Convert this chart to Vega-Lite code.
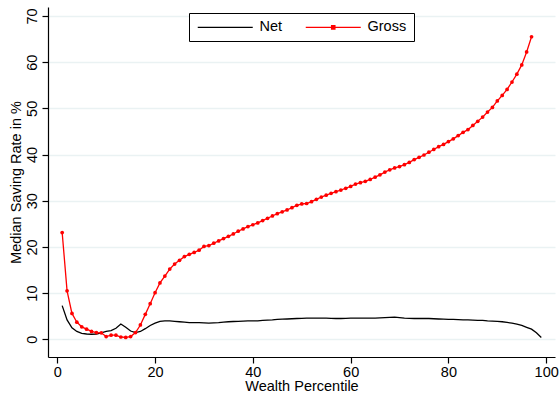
{
  "$schema": "https://vega.github.io/schema/vega-lite/v6.json",
  "autosize": "none",
  "width": 507,
  "height": 350,
  "padding": {"left": 48, "top": 7, "right": 5, "bottom": 37},
  "background": "white",
  "config": {
    "view": {"stroke": null},
    "font": "Liberation Sans",
    "axis": {"labelFont": "Liberation Sans", "titleFont": "Liberation Sans", "labelFontSize": 14.5, "titleFontSize": 14.5, "labelColor": "black", "titleColor": "black", "titleFontWeight": "normal", "domainColor": "black", "tickColor": "black", "domainWidth": 1.2, "tickWidth": 1.2, "tickSize": 6, "gridColor": "#eaf2f3", "gridWidth": 1.5}
  },
  "data": {"values": [
    {"p":1,"s":"Net","v":7.3},{"p":2,"s":"Net","v":4.2},{"p":3,"s":"Net","v":2.5},{"p":4,"s":"Net","v":1.7},{"p":5,"s":"Net","v":1.3},{"p":6,"s":"Net","v":1.15},{"p":7,"s":"Net","v":1.1},{"p":8,"s":"Net","v":1.15},{"p":9,"s":"Net","v":1.4},{"p":10,"s":"Net","v":1.7},
    {"p":11,"s":"Net","v":1.9},{"p":12,"s":"Net","v":2.4},{"p":13,"s":"Net","v":3.3},{"p":14,"s":"Net","v":2.6},{"p":15,"s":"Net","v":1.8},{"p":16,"s":"Net","v":1.45},{"p":17,"s":"Net","v":1.7},{"p":18,"s":"Net","v":2.3},{"p":19,"s":"Net","v":3.0},{"p":20,"s":"Net","v":3.5},
    {"p":21,"s":"Net","v":3.9},{"p":22,"s":"Net","v":4.0},{"p":23,"s":"Net","v":4.0},{"p":24,"s":"Net","v":3.9},{"p":25,"s":"Net","v":3.8},{"p":26,"s":"Net","v":3.7},{"p":27,"s":"Net","v":3.6},{"p":28,"s":"Net","v":3.6},{"p":29,"s":"Net","v":3.6},{"p":30,"s":"Net","v":3.55},
    {"p":31,"s":"Net","v":3.5},{"p":32,"s":"Net","v":3.55},{"p":33,"s":"Net","v":3.6},{"p":34,"s":"Net","v":3.7},{"p":35,"s":"Net","v":3.8},{"p":36,"s":"Net","v":3.85},{"p":37,"s":"Net","v":3.9},{"p":38,"s":"Net","v":3.95},{"p":39,"s":"Net","v":4.0},{"p":40,"s":"Net","v":4.0},
    {"p":41,"s":"Net","v":4.0},{"p":42,"s":"Net","v":4.1},{"p":43,"s":"Net","v":4.15},{"p":44,"s":"Net","v":4.2},{"p":45,"s":"Net","v":4.3},{"p":46,"s":"Net","v":4.35},{"p":47,"s":"Net","v":4.4},{"p":48,"s":"Net","v":4.45},{"p":49,"s":"Net","v":4.5},{"p":50,"s":"Net","v":4.55},
    {"p":51,"s":"Net","v":4.6},{"p":52,"s":"Net","v":4.6},{"p":53,"s":"Net","v":4.6},{"p":54,"s":"Net","v":4.6},{"p":55,"s":"Net","v":4.6},{"p":56,"s":"Net","v":4.55},{"p":57,"s":"Net","v":4.5},{"p":58,"s":"Net","v":4.5},{"p":59,"s":"Net","v":4.55},{"p":60,"s":"Net","v":4.6},
    {"p":61,"s":"Net","v":4.6},{"p":62,"s":"Net","v":4.6},{"p":63,"s":"Net","v":4.6},{"p":64,"s":"Net","v":4.6},{"p":65,"s":"Net","v":4.6},{"p":66,"s":"Net","v":4.65},{"p":67,"s":"Net","v":4.7},{"p":68,"s":"Net","v":4.75},{"p":69,"s":"Net","v":4.8},{"p":70,"s":"Net","v":4.7},
    {"p":71,"s":"Net","v":4.6},{"p":72,"s":"Net","v":4.55},{"p":73,"s":"Net","v":4.5},{"p":74,"s":"Net","v":4.5},{"p":75,"s":"Net","v":4.5},{"p":76,"s":"Net","v":4.5},{"p":77,"s":"Net","v":4.45},{"p":78,"s":"Net","v":4.4},{"p":79,"s":"Net","v":4.35},{"p":80,"s":"Net","v":4.3},
    {"p":81,"s":"Net","v":4.3},{"p":82,"s":"Net","v":4.25},{"p":83,"s":"Net","v":4.2},{"p":84,"s":"Net","v":4.2},{"p":85,"s":"Net","v":4.15},{"p":86,"s":"Net","v":4.1},{"p":87,"s":"Net","v":4.1},{"p":88,"s":"Net","v":4.0},{"p":89,"s":"Net","v":3.95},{"p":90,"s":"Net","v":3.9},
    {"p":91,"s":"Net","v":3.8},{"p":92,"s":"Net","v":3.65},{"p":93,"s":"Net","v":3.5},{"p":94,"s":"Net","v":3.3},{"p":95,"s":"Net","v":3.0},{"p":96,"s":"Net","v":2.6},{"p":97,"s":"Net","v":2.2},{"p":98,"s":"Net","v":1.4},{"p":99,"s":"Net","v":0.4},
    {"p":1,"s":"Gross","v":23.1},{"p":2,"s":"Gross","v":10.5},{"p":3,"s":"Gross","v":5.6},{"p":4,"s":"Gross","v":3.7},{"p":5,"s":"Gross","v":2.7},{"p":6,"s":"Gross","v":2.2},{"p":7,"s":"Gross","v":1.7},{"p":8,"s":"Gross","v":1.45},{"p":9,"s":"Gross","v":1.4},{"p":10,"s":"Gross","v":0.6},
    {"p":11,"s":"Gross","v":0.9},{"p":12,"s":"Gross","v":0.9},{"p":13,"s":"Gross","v":0.5},{"p":14,"s":"Gross","v":0.4},{"p":15,"s":"Gross","v":0.6},{"p":16,"s":"Gross","v":1.45},{"p":17,"s":"Gross","v":3.1},{"p":18,"s":"Gross","v":5.4},{"p":19,"s":"Gross","v":7.7},{"p":20,"s":"Gross","v":10.1},
    {"p":21,"s":"Gross","v":12.2},{"p":22,"s":"Gross","v":13.7},{"p":23,"s":"Gross","v":15.2},{"p":24,"s":"Gross","v":16.3},{"p":25,"s":"Gross","v":17.1},{"p":26,"s":"Gross","v":17.9},{"p":27,"s":"Gross","v":18.4},{"p":28,"s":"Gross","v":18.8},{"p":29,"s":"Gross","v":19.3},{"p":30,"s":"Gross","v":20.1},
    {"p":31,"s":"Gross","v":20.3},{"p":32,"s":"Gross","v":20.8},{"p":33,"s":"Gross","v":21.3},{"p":34,"s":"Gross","v":21.8},{"p":35,"s":"Gross","v":22.3},{"p":36,"s":"Gross","v":22.8},{"p":37,"s":"Gross","v":23.4},{"p":38,"s":"Gross","v":23.9},{"p":39,"s":"Gross","v":24.4},{"p":40,"s":"Gross","v":24.8},
    {"p":41,"s":"Gross","v":25.2},{"p":42,"s":"Gross","v":25.7},{"p":43,"s":"Gross","v":26.2},{"p":44,"s":"Gross","v":26.7},{"p":45,"s":"Gross","v":27.2},{"p":46,"s":"Gross","v":27.6},{"p":47,"s":"Gross","v":28.0},{"p":48,"s":"Gross","v":28.5},{"p":49,"s":"Gross","v":29.0},{"p":50,"s":"Gross","v":29.3},
    {"p":51,"s":"Gross","v":29.4},{"p":52,"s":"Gross","v":29.8},{"p":53,"s":"Gross","v":30.3},{"p":54,"s":"Gross","v":30.8},{"p":55,"s":"Gross","v":31.2},{"p":56,"s":"Gross","v":31.6},{"p":57,"s":"Gross","v":31.95},{"p":58,"s":"Gross","v":32.3},{"p":59,"s":"Gross","v":32.7},{"p":60,"s":"Gross","v":33.1},
    {"p":61,"s":"Gross","v":33.6},{"p":62,"s":"Gross","v":33.9},{"p":63,"s":"Gross","v":34.2},{"p":64,"s":"Gross","v":34.6},{"p":65,"s":"Gross","v":35.1},{"p":66,"s":"Gross","v":35.6},{"p":67,"s":"Gross","v":36.2},{"p":68,"s":"Gross","v":36.7},{"p":69,"s":"Gross","v":37.1},{"p":70,"s":"Gross","v":37.4},
    {"p":71,"s":"Gross","v":37.8},{"p":72,"s":"Gross","v":38.3},{"p":73,"s":"Gross","v":38.9},{"p":74,"s":"Gross","v":39.4},{"p":75,"s":"Gross","v":39.9},{"p":76,"s":"Gross","v":40.5},{"p":77,"s":"Gross","v":41.1},{"p":78,"s":"Gross","v":41.7},{"p":79,"s":"Gross","v":42.2},{"p":80,"s":"Gross","v":42.8},
    {"p":81,"s":"Gross","v":43.4},{"p":82,"s":"Gross","v":44.1},{"p":83,"s":"Gross","v":44.8},{"p":84,"s":"Gross","v":45.4},{"p":85,"s":"Gross","v":46.3},{"p":86,"s":"Gross","v":47.2},{"p":87,"s":"Gross","v":48.1},{"p":88,"s":"Gross","v":49.2},{"p":89,"s":"Gross","v":50.2},{"p":90,"s":"Gross","v":51.6},
    {"p":91,"s":"Gross","v":52.8},{"p":92,"s":"Gross","v":54.1},{"p":93,"s":"Gross","v":55.7},{"p":94,"s":"Gross","v":57.4},{"p":95,"s":"Gross","v":59.4},{"p":96,"s":"Gross","v":62.2},{"p":97,"s":"Gross","v":65.5}
  ]},
  "encoding": {
    "x": {"field": "p", "type": "quantitative", "scale": {"domain": [-1.9, 101.8], "nice": false, "zero": false},
      "axis": {"values": [0, 20, 40, 60, 80, 100], "title": "Wealth Percentile", "grid": false, "labelPadding": 2, "titlePadding": 1, "labelFlush": false}},
    "y": {"field": "v", "type": "quantitative", "scale": {"domain": [-3.83, 71.94], "nice": false, "zero": false},
      "axis": {"values": [0, 10, 20, 30, 40, 50, 60, 70], "title": "Median Saving Rate in %", "grid": true, "labelAngle": -90, "labelAlign": "center", "labelBaseline": "bottom", "labelPadding": 3, "labelFlush": false, "titleAngle": -90, "titleAlign": "center", "titleBaseline": "alphabetic", "titleX": -28}}
  },
  "layer": [
    {
      "mark": {"type": "line", "strokeWidth": 1.3},
      "encoding": {
        "color": {"field": "s", "type": "nominal", "sort": ["Net", "Gross"],
          "scale": {"domain": ["Net", "Gross"], "range": ["#000000", "#ff0000"]},
          "legend": {"orient": "none", "legendX": 141, "legendY": 6, "direction": "horizontal", "title": null,
            "strokeColor": "black", "fillColor": "white", "padding": 7, "cornerRadius": 0,
            "symbolType": "stroke", "symbolSize": 121, "symbolStrokeWidth": 1.3,
            "labelFont": "Liberation Sans", "labelFontSize": 14.5, "labelColor": "black", "labelOffset": 49, "columnPadding": 20,
            "encode": {"symbols": {"update": {
              "shape": {"signal": "datum.value === 'Gross' ? 'M-1,0L9,0M3.7,-0.3L4.3,-0.3L4.3,0.3L3.7,0.3Z' : 'M-1,0L9,0'"},
              "fill": {"signal": "datum.value === 'Gross' ? '#ff0000' : 'transparent'"}
            }}}
          }},
        "order": {"field": "p", "type": "quantitative"}
      }
    },
    {
      "transform": [{"filter": "datum.s === 'Gross'"}],
      "mark": {"type": "point", "shape": "circle", "filled": true, "size": 14, "color": "#ff0000", "opacity": 1}
    }
  ]
}
